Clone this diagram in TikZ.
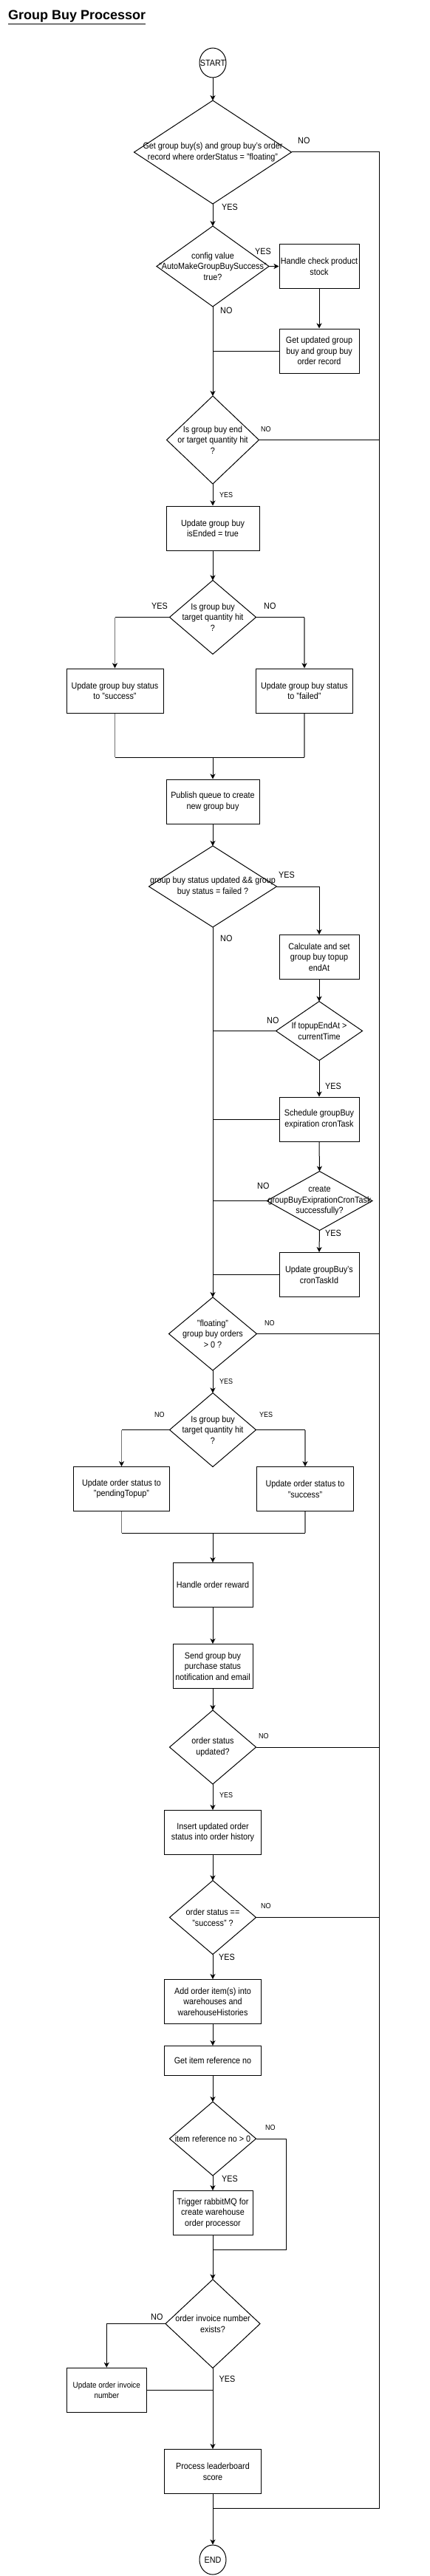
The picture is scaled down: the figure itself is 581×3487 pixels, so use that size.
\documentclass[tikz,border=0pt]{standalone}
\usepackage{fontspec}
\setmainfont{Liberation Sans}[FakeStretch=0.9]
\newfontfamily\titlefont{Liberation Sans}
\usetikzlibrary{shapes.geometric,arrows.meta}
\newcommand{\bodyfont}{\fontsize{12}{14.5}\selectfont}
\newcommand{\smlfont}{\fontsize{10}{12}\selectfont}
\newcommand{\apos}{\char"27\relax}
\begin{document}
\begin{tikzpicture}[x=1pt,y=-1pt]
\tikzset{
 conn/.style={draw=black, line width=1pt},
 arr/.style={conn, -{Stealth[length=7pt,width=7pt,inset=2pt]}},
 garr/.style={draw=gray!90!black, line width=1.6pt, -{Stealth[length=7pt,width=7pt,inset=2pt,color=black]}},
 gline/.style={draw=gray!90!black, line width=1.6pt},
 box/.style={draw, line width=1pt, rectangle, align=center, inner sep=1pt, font=\bodyfont},
 dia/.style={draw, line width=1pt, diamond, inner sep=0pt, outer sep=0pt},
 dtext/.style={align=center, inner sep=0pt, font=\bodyfont},
 term/.style={draw, line width=1pt, ellipse, inner sep=0pt, minimum width=36, minimum height=40},
 biglbl/.style={anchor=west, inner sep=0pt, font=\bodyfont},
 smlbl/.style={anchor=west, inner sep=0pt, font=\smlfont},
}
\fill[white] (0,0) rectangle (581,3487);
\useasboundingbox (0,0) rectangle (581,3487);

\node[anchor=base west, inner sep=0pt, font=\titlefont\fontsize{18}{22}\selectfont\bfseries] (title) at (11,27) {\underline{Group Buy Processor}};

% terminals
\node[term] (start) at (288,85) {};
\node[dtext] (startt) at (start) {START};
\node[term] (endn) at (288,3465) {};
\node[dtext] (endt) at (endn) {END};

% diamonds
\node[dia, minimum width=213, minimum height=140] (d1) at (288,206) {};
\node[dtext] (d1t) at (d1) {Get group buy(s) and group buy\apos s order\\record where orderStatus = "floating"};
\node[dia, minimum width=152, minimum height=109] (d2) at (288,360.5) {};
\node[dtext] (d2t) at (d2) {config value\\"AutoMakeGroupBuySuccess"\\true?};
\node[dia, minimum width=125, minimum height=119] (d3) at (288,595.5) {};
\node[dtext] (d3t) at (d3) {Is group buy end\\or target quantity hit\\?};
\node[dia, minimum width=117, minimum height=100] (d4) at (288,835.5) {};
\node[dtext] (d4t) at (d4) {Is group buy\\target quantity hit\\?};
\node[dia, minimum width=173, minimum height=110] (d5) at (288,1200) {};
\node[dtext] (d5t) at (d5) {group buy status updated \&\& group\\buy status = failed ?};
\node[dia, minimum width=117, minimum height=80] (d6) at (432,1395.5) {};
\node[dtext] (d6t) at (d6) {If topupEndAt >\\currentTime};
\node[dia, minimum width=143, minimum height=80] (d7) at (432.5,1625.5) {};
\node[dtext] (d7t) at (d7) {create\\groupBuyExiprationCronTask\\successfully?};
\node[dia, minimum width=119, minimum height=99] (d8) at (288,1805.5) {};
\node[dtext] (d8t) at (d8) {"floating"\\group buy orders\\> 0 ?};
\node[dia, minimum width=117, minimum height=100] (d9) at (288,1935.5) {};
\node[dtext] (d9t) at (d9) {Is group buy\\target quantity hit\\?};
\node[dia, minimum width=117, minimum height=100] (d10) at (288,2365) {};
\node[dtext] (d10t) at (d10) {order status\\updated?};
\node[dia, minimum width=117, minimum height=100] (d11) at (288,2595.5) {};
\node[dtext] (d11t) at (d11) {order status ==\\"success" ?};
\node[dia, minimum width=117, minimum height=100] (d12) at (288,2895) {};
\node[dtext] (d12t) at (d12) {item reference no > 0};
\node[dia, minimum width=128, minimum height=120] (d13) at (288,3145.5) {};
\node[dtext] (d13t) at (d13) {order invoice number\\exists?};

% boxes
\node[box, minimum width=108, minimum height=60] (b1) at (432,360.5) {Handle check product\\stock};
\node[box, minimum width=108, minimum height=60] (b2) at (432,475) {Get updated group\\buy and group buy\\order record};
\node[box, minimum width=126, minimum height=60] (b3) at (288,715) {Update group buy\\isEnded = true};
\node[box, minimum width=131, minimum height=60] (bsucc) at (155.5,935) {Update group buy status\\to "success"};
\node[box, minimum width=131, minimum height=60] (bfail) at (412,935) {Update group buy status\\to "failed"};
\node[box, minimum width=126, minimum height=60] (pub) at (288,1085) {Publish queue to create\\new group buy};
\node[box, minimum width=108, minimum height=60] (calc) at (432,1295.5) {Calculate and set\\group buy topup\\endAt};
\node[box, minimum width=108, minimum height=60] (sched) at (432,1515) {Schedule groupBuy\\expiration cronTask};
\node[box, minimum width=108, minimum height=60] (upd) at (432,1725.5) {Update groupBuy\apos s\\cronTaskId};
\node[box, minimum width=130, minimum height=60] (bpend) at (164.5,2015.5) {Update order status to\\"pendingTopup"};
\node[box, minimum width=131, minimum height=60] (bos) at (413,2015.5) {Update order status to\\"success"};
\node[box, minimum width=108, minimum height=60] (reward) at (288,2145.5) {Handle order reward};
\node[box, minimum width=108, minimum height=60] (notify) at (288,2255.5) {Send group buy\\purchase status\\notification and email};
\node[box, minimum width=131, minimum height=60] (ins) at (288,2480.5) {Insert updated order\\status into order history};
\node[box, minimum width=131, minimum height=60] (addw) at (288,2709.5) {Add order item(s) into\\warehouses and\\warehouseHistories};
\node[box, minimum width=131, minimum height=40] (getref) at (288,2789.5) {Get item reference no};
\node[box, minimum width=108, minimum height=60] (trig) at (288,2995.5) {Trigger rabbitMQ for\\create warehouse\\order processor};
\node[box, minimum width=108, minimum height=60, font=\fontsize{11}{13.5}\selectfont] (inv) at (144.3,3235.3) {Update order invoice\\number};
\node[box, minimum width=131, minimum height=60] (lead) at (288,3345.5) {Process leaderboard\\score};

% helper coordinates
\coordinate (rt) at (513,206);
\coordinate (rb) at (513,3395);
\coordinate (jend) at (288,3395);
\coordinate (j1) at (288,1025);
\coordinate (j2) at (288,2075);
\coordinate (r2) at (387,3045);
\coordinate (j3) at (288,3045);

% labels
\node[biglbl] (l1n) at (403,190) {NO};
\node[biglbl] (l1y) at (300,280) {YES};
\node[biglbl] (l2y) at (345,340) {YES};
\node[biglbl] (l2n) at (298,420) {NO};
\node[smlbl] (l3n) at (353,581) {NO};
\node[smlbl] (l3y) at (297,670) {YES};
\node[biglbl] (l4y) at (205,820) {YES};
\node[biglbl] (l4n) at (357,820) {NO};
\node[biglbl] (l5y) at (377,1184) {YES};
\node[biglbl] (l5n) at (298,1270) {NO};
\node[biglbl] (l6n) at (361,1381) {NO};
\node[biglbl] (l6y) at (440,1470) {YES};
\node[biglbl] (l7n) at (348,1605) {NO};
\node[biglbl] (l7y) at (440,1669) {YES};
\node[smlbl] (l8n) at (358,1791) {NO};
\node[smlbl] (l8y) at (297,1870) {YES};
\node[smlbl] (l9n) at (209,1915) {NO};
\node[smlbl] (l9y) at (351,1915) {YES};
\node[smlbl] (l10n) at (350,2350) {NO};
\node[smlbl] (l10y) at (297,2430) {YES};
\node[smlbl] (l11n) at (353,2580) {NO};
\node[biglbl] (l11y) at (296,2649) {YES};
\node[smlbl] (l12n) at (359,2880) {NO};
\node[biglbl] (l12y) at (300,2949) {YES};
\node[biglbl] (l13n) at (204,3136) {NO};
\node[biglbl] (l13y) at (296.5,3220) {YES};

% connectors
\draw[arr] (start.south) -- (d1.north);
\draw[conn] (d1.east) -- (rt) -- (rb) -- (jend);
\draw[arr] (d1.south) -- (d2.north);
\draw[arr] (d2.east) -- (b1.west);
\draw[arr] (b1.south) -- (b2.north);
\draw[conn] (b2.west) -- (b2.west -| d2.south);
\draw[arr] (d2.south) -- (d3.north);
\draw[conn] (d3.east) -- (d3.east -| rt);
\draw[arr] (d3.south) -- (b3.north);
\draw[arr] (b3.south) -- (d4.north);
\draw[conn] (d4.west) -- (d4.west -| bsucc.north);
\draw[garr] (d4.west -| bsucc.north) -- (bsucc.north);
\draw[conn] (d4.east) -- (d4.east -| bfail.north);
\draw[garr] (d4.east -| bfail.north) -- (bfail.north);
\draw[gline] (bsucc.south) -- (bsucc.south |- j1);
\draw[gline] (bfail.south) -- (bfail.south |- j1);
\draw[conn] (bsucc.south |- j1) -- (bfail.south |- j1);
\draw[arr] (j1) -- (pub.north);
\draw[arr] (pub.south) -- (d5.north);
\draw[arr] (d5.east) -| (calc.north);
\draw[arr] (calc.south) -- (d6.north);
\draw[conn] (d6.west) -- (d6.west -| d5.south);
\draw[arr] (d6.south) -- (sched.north);
\draw[conn] (sched.west) -- (sched.west -| d5.south);
\draw[arr] (sched.south) -- (d7.north);
\draw[conn] (d7.west) -- (d7.west -| d5.south);
\draw[arr] (d7.south) -- (upd.north);
\draw[conn] (upd.west) -- (upd.west -| d5.south);
\draw[arr] (d5.south) -- (d8.north);
\draw[conn] (d8.east) -- (d8.east -| rt);
\draw[arr] (d8.south) -- (d9.north);
\draw[conn] (d9.west) -- (d9.west -| bpend.north);
\draw[garr] (d9.west -| bpend.north) -- (bpend.north);
\draw[conn] (d9.east) -- (d9.east -| bos.north);
\draw[garr] (d9.east -| bos.north) -- (bos.north);
\draw[gline] (bpend.south) -- (bpend.south |- j2);
\draw[gline] (bos.south) -- (bos.south |- j2);
\draw[conn] (bpend.south |- j2) -- (bos.south |- j2);
\draw[arr] (j2) -- (reward.north);
\draw[arr] (reward.south) -- (notify.north);
\draw[arr] (notify.south) -- (d10.north);
\draw[conn] (d10.east) -- (d10.east -| rt);
\draw[arr] (d10.south) -- (ins.north);
\draw[arr] (ins.south) -- (d11.north);
\draw[conn] (d11.east) -- (d11.east -| rt);
\draw[arr] (d11.south) -- (addw.north);
\draw[arr] (addw.south) -- (getref.north);
\draw[arr] (getref.south) -- (d12.north);
\draw[conn] (d12.east) -| (r2) -- (j3);
\draw[arr] (d12.south) -- (trig.north);
\draw[arr] (trig.south) -- (d13.north);
\draw[arr] (d13.west) -| (inv.north);
\draw[conn] (inv.east) -- (inv.east -| d13.south);
\draw[arr] (d13.south) -- (lead.north);
\draw[arr] (lead.south) -- (endn.north);
\end{tikzpicture}
\end{document}
